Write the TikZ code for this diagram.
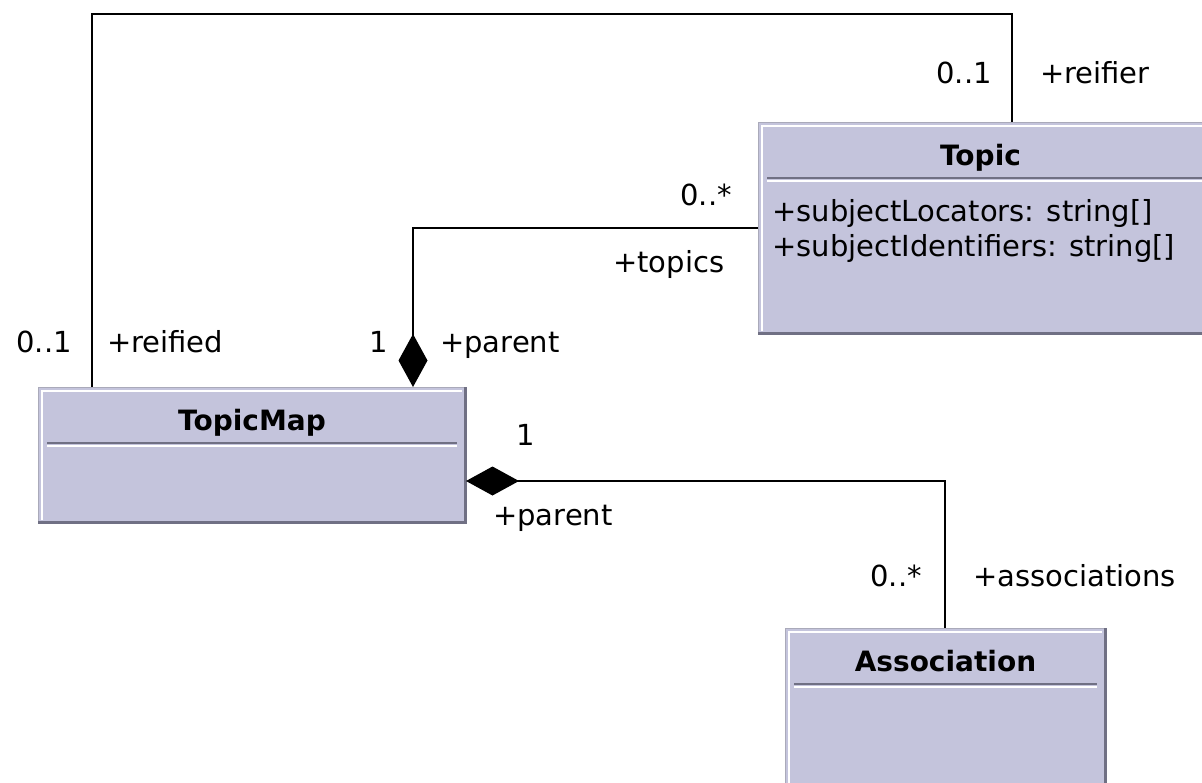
\documentclass[tikz,border=0pt]{standalone}
\usepackage{fontspec}
\setmainfont{DejaVu Sans}
\usetikzlibrary{arrows.meta}

\definecolor{boxfill}{RGB}{196,196,220}
\definecolor{boxshade}{RGB}{112,112,132}
\definecolor{boxedge}{RGB}{170,170,186}

\begin{document}
\begin{tikzpicture}[x=1pt,y=-1pt,
    umlbox/.style={fill=boxfill,draw=boxedge,line width=1pt,anchor=north west,inner sep=0pt},
    umltitle/.style={font=\fontsize{28}{32}\selectfont\bfseries,anchor=base,inner sep=0pt},
    attr/.style={font=\fontsize{29}{34}\selectfont,anchor=base west,inner sep=0pt},
    lbl/.style={font=\fontsize{29}{34}\selectfont,inner sep=0pt},
    link/.style={line width=2.2pt},
    compo/.style={line width=2.2pt,{Diamond[length=53pt,width=29pt]}-}
]
    \useasboundingbox (0,0) rectangle (1202,782);

    % classes
    \node[umlbox,minimum width=452pt,minimum height=211pt] (topic) at (758,122) {};
    \node[umlbox,minimum width=427pt,minimum height=135pt] (topicmap) at (38,387) {};
    \node[umlbox,minimum width=320pt,minimum height=175pt] (assoc) at (785,628) {};
    \foreach \b/\t/\s in {topic/Topic/-4,topicmap/TopicMap/0,assoc/Association/0}{
        \draw[white,line width=1.5pt] ([xshift=4pt,yshift=3pt]\b.south west) -- ([xshift=4pt,yshift=-4pt]\b.north west) -- ([xshift=-4pt,yshift=-4pt]\b.north east);
        \draw[boxshade,line width=3pt] ([yshift=1pt]\b.south west) -- ([xshift=-1pt,yshift=1pt]\b.south east) -- ([xshift=-1pt]\b.north east);
        \node[umltitle] (\b-name) at ([xshift=\s pt,yshift=-43pt]\b.north) {\t};
        \draw[boxshade,line width=1.5pt] ([xshift=9pt,yshift=-56pt]\b.north west) -- ([xshift=-9pt,yshift=-56pt]\b.north east);
        \draw[white,line width=1.5pt] ([xshift=9pt,yshift=-59pt]\b.north west) -- ([xshift=-9pt,yshift=-59pt]\b.north east);
    }
    \node[attr] (topic-loc) at ([xshift=14pt,yshift=-99pt]topic.north west) {+subjectLocators: string[]};
    \node[attr] (topic-sid) at ([xshift=14pt,yshift=-134pt]topic.north west) {+subjectIdentifiers: string[]};

    % bends
    \coordinate (rleft) at (92,14);
    \coordinate (rright) at (1012,14);
    \coordinate (tbend) at (413,228);
    \coordinate (abend) at (945,481);

    % associations
    \draw[link] (topicmap.north -| rleft) -- (rleft) -- (rright) -- (topic.north -| rright);
    \draw[compo] (topicmap.north -| tbend) -- (tbend) -- (topic.west |- tbend);
    \draw[compo] (topicmap.east |- abend) -- (abend) -- (assoc.north -| abend);

    % ends
    \node[lbl,anchor=base east] (reifier-m) at (992,83) {0..1};
    \node[lbl,anchor=base west] (reifier-r) at (1040,83) {+reifier};
    \node[lbl,anchor=base east] (reified-m) at (72,352) {0..1};
    \node[lbl,anchor=base west] (reified-r) at (107,352) {+reified};
    \node[lbl,anchor=base east] (topics-m) at (732,205) {0..*};
    \node[lbl,anchor=base west] (topics-r) at (613,272) {+topics};
    \node[lbl,anchor=base east] (tparent-m) at (388,352) {1};
    \node[lbl,anchor=base west] (tparent-r) at (440,352) {+parent};
    \node[lbl,anchor=base east] (aparent-m) at (535,445) {1};
    \node[lbl,anchor=base west] (aparent-r) at (493,525) {+parent};
    \node[lbl,anchor=base east] (assocs-m) at (922,586) {0..*};
    \node[lbl,anchor=base west] (assocs-r) at (973,586) {+associations};
\end{tikzpicture}
\end{document}
